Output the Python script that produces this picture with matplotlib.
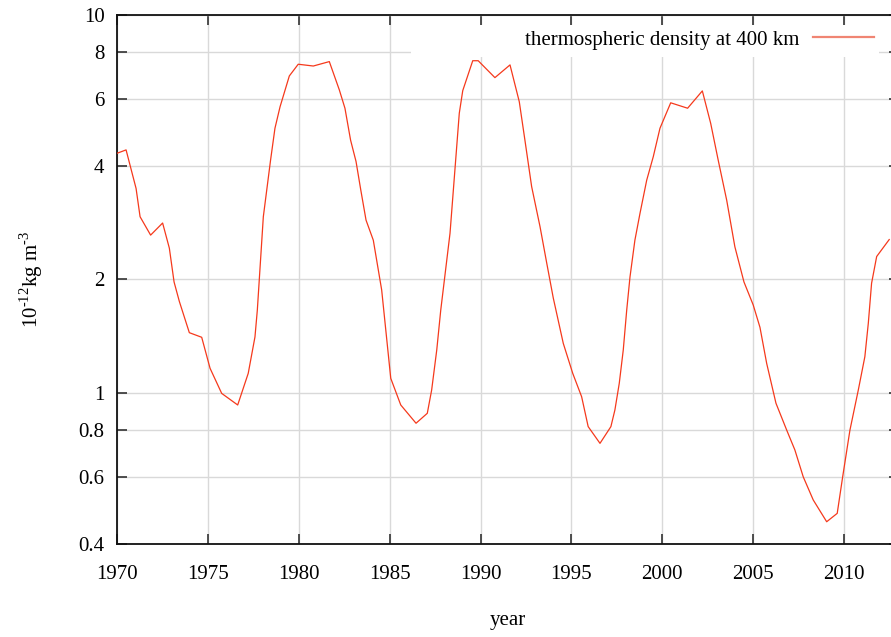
import matplotlib

matplotlib.use("Agg")
import matplotlib.pyplot as plt
from matplotlib.lines import Line2D
from matplotlib.patches import Rectangle

# Thermospheric density at 400 km, units of 1e-12 kg m^-3
years = [
    1970.00, 1970.50, 1971.05, 1971.27, 1971.85, 1972.51, 1972.88, 1973.14,
    1973.43, 1973.98, 1974.66, 1975.12, 1975.76, 1976.64, 1977.22, 1977.59,
    1977.72, 1978.05, 1978.45, 1978.69, 1978.97, 1979.48, 1979.97, 1980.80,
    1981.68, 1982.23, 1982.54, 1982.85, 1983.15, 1983.41, 1983.70, 1984.10,
    1984.56, 1985.06, 1985.61, 1986.45, 1987.07, 1987.31, 1987.59, 1987.81,
    1988.32, 1988.83, 1989.02, 1989.57, 1989.87, 1990.79, 1991.62, 1992.13,
    1992.44, 1992.81, 1993.27, 1993.64, 1994.00, 1994.55, 1995.07, 1995.56,
    1995.92, 1996.57, 1997.17, 1997.39, 1997.63, 1997.85, 1998.04, 1998.22,
    1998.49, 1998.77, 1999.14, 1999.50, 1999.87, 2000.46, 2001.39, 2002.20,
    2002.66, 2003.07, 2003.54, 2003.99, 2004.49, 2005.00, 2005.37, 2005.74,
    2006.25, 2006.84, 2007.29, 2007.75, 2008.30, 2009.04, 2009.62, 2009.92,
    2010.32, 2010.78, 2011.14, 2011.33, 2011.51, 2011.79, 2012.48,
]
density = [
    4.31, 4.40, 3.48, 2.93, 2.62, 2.82, 2.42, 1.97,
    1.75, 1.447, 1.407, 1.165, 1.00, 0.932, 1.13, 1.41,
    1.66, 2.93, 4.14, 5.02, 5.72, 6.90, 7.41, 7.33,
    7.53, 6.34, 5.67, 4.67, 4.10, 3.45, 2.87, 2.54,
    1.877, 1.096, 0.932, 0.834, 0.886, 1.021, 1.302, 1.66,
    2.65, 5.50, 6.31, 7.57, 7.57, 6.83, 7.38, 5.90,
    4.67, 3.52, 2.76, 2.21, 1.787, 1.356, 1.13, 0.980,
    0.817, 0.738, 0.817, 0.904, 1.063, 1.302, 1.66, 2.03,
    2.54, 2.99, 3.66, 4.22, 5.02, 5.86, 5.67, 6.30,
    5.17, 4.14, 3.24, 2.44, 1.97, 1.712, 1.495, 1.20,
    0.942, 0.800, 0.709, 0.602, 0.523, 0.458, 0.482, 0.602,
    0.800, 1.021, 1.25, 1.532, 1.954, 2.30, 2.55,
]

x_ticks = [1970, 1975, 1980, 1985, 1990, 1995, 2000, 2005, 2010]
y_ticks = [0.4, 0.6, 0.8, 1, 2, 4, 6, 8, 10]
y_tick_labels = ["0.4", "0.6", "0.8", "1", "2", "4", "6", "8", "10"]

plt.rcParams["font.family"] = ["Liberation Serif", "DejaVu Serif"]
plt.rcParams["mathtext.fontset"] = "custom"
plt.rcParams["mathtext.rm"] = "Liberation Serif"

fig = plt.figure(figsize=(8.91, 6.37), dpi=100)
ax = fig.add_axes([0.1313, 0.146, 0.8773, 0.8305])

line_color = "#f5391c"
ax.plot(years, density, color=line_color, linewidth=0.9, zorder=3)

ax.set_yscale("log")
ax.set_xlim(1970, 2013)
ax.set_ylim(0.4, 10)

ax.set_xticks(x_ticks)
ax.set_xticklabels([str(t) for t in x_ticks])
ax.set_yticks(y_ticks)
ax.set_yticklabels(y_tick_labels)
ax.yaxis.set_minor_locator(matplotlib.ticker.NullLocator())

ax.tick_params(axis="both", which="major", direction="in", length=7,
               width=1.2, color="#333333", labelsize=15,
               top=True, right=True)
ax.tick_params(axis="x", pad=15)
ax.tick_params(axis="y", pad=9)

ax.set_axisbelow(True)
ax.grid(True, color="#d9d9d9", linewidth=1.0)

for side in ["left", "bottom", "top", "right"]:
    ax.spines[side].set_linewidth(1.3)
    ax.spines[side].set_color("#111111")

# opaque key area, like gnuplot's "key opaque"
ax.add_patch(Rectangle((0.376, 0.9206), 0.599, 0.0604, transform=ax.transAxes,
                       facecolor="white", edgecolor="none", zorder=1))

key_handle = Line2D([0], [0], color="#f08573", linewidth=1.6)
ax.legend([key_handle], ["thermospheric density at 400 km"],
          loc="center right", bbox_to_anchor=(0.968, 0.9527),
          frameon=False, markerfirst=False, borderpad=0, borderaxespad=0,
          handlelength=2.9, handletextpad=0.65, fontsize=15)

ax.set_xlabel("year", fontsize=15)
ax.xaxis.set_label_coords(0.5, -0.126)
ax.set_ylabel(r"10$^{\text{-12}}$kg m$^{\text{-3}}$", fontsize=15)
ax.yaxis.set_label_coords(-0.092, 0.5)

fig.savefig("out.png", dpi=100)
plt.close(fig)
